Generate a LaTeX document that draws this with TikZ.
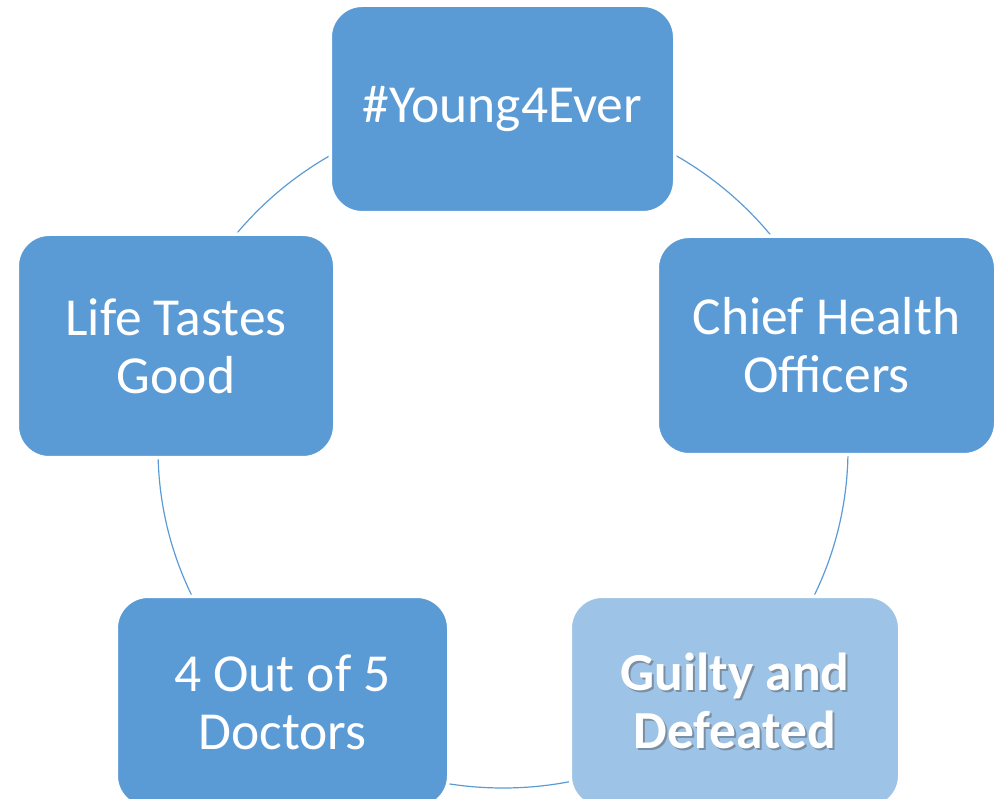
\documentclass[tikz,border=0pt]{standalone}
\usepackage{fontspec}
\setmainfont{Carlito}
\definecolor{boxblue}{HTML}{5B9BD5}
\definecolor{lightblue}{HTML}{9DC3E6}
\definecolor{shadowcol}{HTML}{7A8FA3}
\newcommand\myshadowline[1]{\rlap{\kern2pt\raisebox{-2pt}{\textcolor{shadowcol}{#1}}}#1}
\begin{document}
\begin{tikzpicture}[x=1pt,y=-1pt,
  cyclebox/.style={rectangle, rounded corners=32pt, fill=boxblue, draw=white,
    line width=3.5pt, text=white, align=center,
    font=\fontsize{53.5}{58}\selectfont, inner sep=0pt},
  ring/.style={draw=boxblue, line width=1.2pt},
  boldbox/.style={cyclebox, fill=lightblue,
    font=\fontsize{53.5}{58}\selectfont\bfseries}]
\useasboundingbox (0,0) rectangle (994,799);
\coordinate (c) at (503,449);
\draw[ring] (c) ellipse [x radius=345, y radius=339];

\node[cyclebox, minimum width=344.5pt, minimum height=207.5pt] (young) at (502.5,109) {\#Young4Ever};
\node[cyclebox, minimum width=338.5pt, minimum height=218.5pt] (chief) at (826.5,345.5) {Chief Health\\Officers};
\node[cyclebox, minimum width=317.5pt, minimum height=223.5pt] (life) at (176,346) {Life Tastes\\Good};
\node[cyclebox, minimum width=332.5pt, minimum height=211.5pt] (doctors) at (282.5,702) {4 Out of 5\\Doctors};
\node[boldbox, minimum width=329.5pt, minimum height=211.5pt] (guilty) at (735,702) {\myshadowline{Guilty and}\\\myshadowline{Defeated}};
\end{tikzpicture}
\end{document}
